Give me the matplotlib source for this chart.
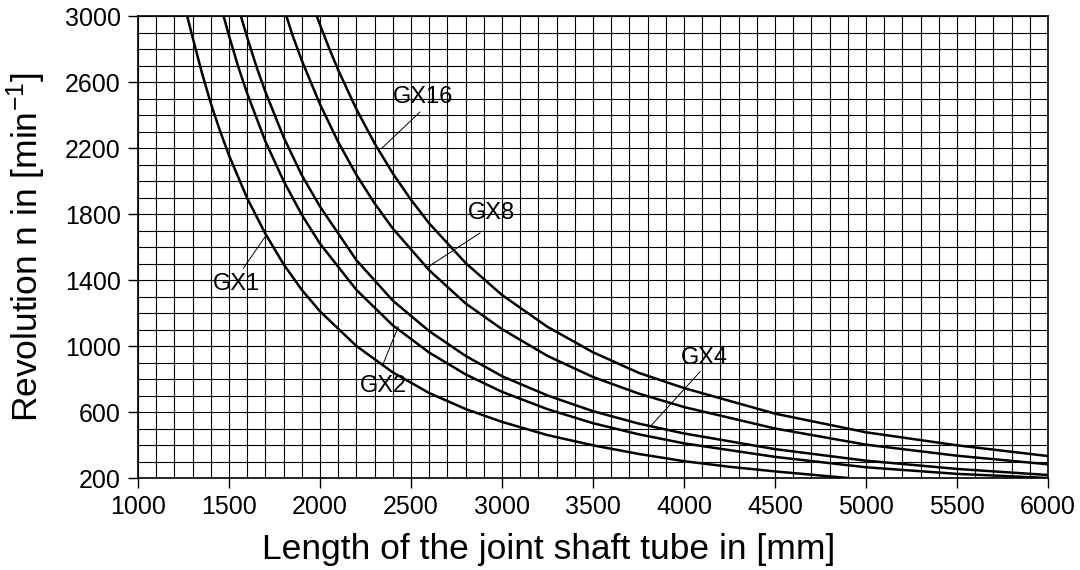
import matplotlib
matplotlib.use("Agg")
import matplotlib.pyplot as plt
from matplotlib.ticker import MultipleLocator

# Fonts
plt.rcParams['font.family'] = ['Liberation Sans', 'DejaVu Sans']
plt.rcParams['mathtext.default'] = 'regular'

# Data: tube length [mm] -> revolution [1/min]
gx1_len = [1270, 1300, 1350, 1400, 1450, 1500, 1600, 1700, 1800, 1900, 2000, 2200, 2400, 2600,
           2800, 3000, 3250, 3500, 3750, 4000, 4250, 4500, 4750, 4900]
gx1_rev = [3000, 2870, 2660, 2470, 2305, 2155, 1895, 1680, 1495, 1340, 1210, 1000, 840, 715,
           618, 540, 460, 398, 346, 302, 268, 240, 215, 200]

gx2_len = [1470, 1500, 1550, 1600, 1700, 1800, 1900, 2000, 2200, 2400, 2600, 2800, 3000,
           3250, 3500, 3750, 4000, 4500, 5000, 5500, 6000]
gx2_rev = [3000, 2880, 2695, 2530, 2240, 2000, 1795, 1620, 1340, 1125, 960, 828, 722,
           617, 532, 465, 410, 328, 265, 225, 200]

gx4_len = [1565, 1600, 1650, 1700, 1800, 1900, 2000, 2200, 2400, 2600, 2800, 3000, 3250,
           3500, 3750, 4000, 4500, 5000, 5500, 6000]
gx4_rev = [3000, 2870, 2695, 2540, 2265, 2035, 1845, 1520, 1275, 1090, 940, 817, 700,
           605, 530, 470, 375, 305, 255, 218]

gx8_len = [1815, 1850, 1900, 2000, 2100, 2200, 2300, 2400, 2600, 2800, 3000, 3250, 3500,
           3750, 4000, 4500, 5000, 5500, 6000]
gx8_rev = [3000, 2880, 2730, 2465, 2236, 2037, 1864, 1712, 1459, 1258, 1102, 940, 812,
           712, 630, 500, 402, 335, 283]

gx16_len = [1982, 2000, 2050, 2100, 2200, 2300, 2400, 2500, 2600, 2800, 3000, 3250, 3500,
            3750, 4000, 4500, 5000, 5500, 6000]
gx16_rev = [3000, 2946, 2805, 2672, 2435, 2228, 2046, 1886, 1743, 1503, 1309, 1116, 962,
            838, 745, 590, 477, 398, 333]

curve_names = ['GX1', 'GX2', 'GX4', 'GX8', 'GX16']
curve_len = [gx1_len, gx2_len, gx4_len, gx8_len, gx16_len]
curve_rev = [gx1_rev, gx2_rev, gx4_rev, gx8_rev, gx16_rev]

# Label text position and leader line (text end, curve end)
label_pos = [(1541, 1376), (2346, 758), (4110, 927), (2940, 1806), (2566, 2509)]
leader_from = [(1579, 1471), (2348, 895), (4088, 844), (2879, 1685), (2549, 2418)]
leader_to = [(1698, 1662), (2430, 1117), (3822, 521), (2593, 1479), (2339, 2198)]

x_ticks = [1000, 1500, 2000, 2500, 3000, 3500, 4000, 4500, 5000, 5500, 6000]
y_ticks = [200, 600, 1000, 1400, 1800, 2200, 2600, 3000]

# Figure
fig = plt.figure(figsize=(10.8, 5.7), dpi=100)
ax = fig.add_axes([0.1278, 0.1614, 0.8426, 0.8105])

ax.set_xlim(1000, 6000)
ax.set_ylim(200, 3000)
ax.set_xticks(x_ticks)
ax.set_yticks(y_ticks)
ax.xaxis.set_minor_locator(MultipleLocator(100))
ax.yaxis.set_minor_locator(MultipleLocator(100))

ax.grid(which='both', color='black', linewidth=0.8)
ax.set_axisbelow(True)

for name, xs, ys in zip(curve_names, curve_len, curve_rev):
    ax.plot(xs, ys, color='black', linewidth=1.8)

for name, pos, p0, p1 in zip(curve_names, label_pos, leader_from, leader_to):
    ax.plot([p0[0], p1[0]], [p0[1], p1[1]], color='black', linewidth=0.7)
    ax.text(pos[0], pos[1], name, fontsize=17, ha='center', va='center')

ax.tick_params(which='major', direction='out', length=7.5, width=1.0,
               labelsize=18, pad=5)
ax.tick_params(which='minor', length=0)
for s in ax.spines.values():
    s.set_linewidth(1.2)

ax.set_xlabel('Length of the joint shaft tube in [mm]', fontsize=25.5, labelpad=10)
ax.xaxis.label.set_x(0.4516)
ax.set_ylabel('Revolution n in [min$^{-1}$]', fontsize=25.5, labelpad=12)

plt.savefig('out.png', dpi=100)
